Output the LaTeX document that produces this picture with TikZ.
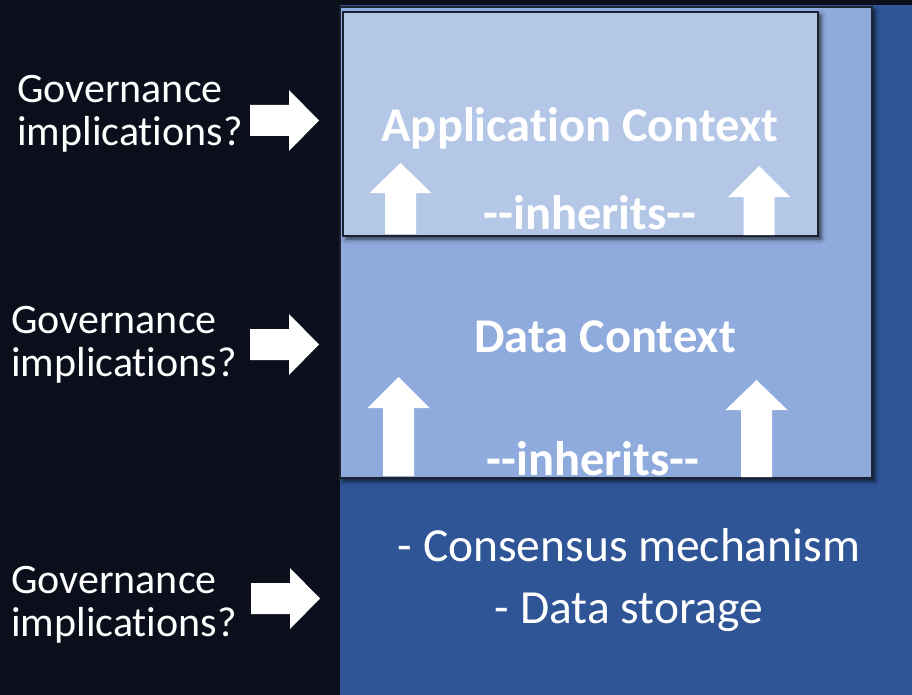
\documentclass[tikz,border=0pt]{standalone}
\usepackage{fontspec}
\setmainfont[Ligatures={NoCommon}, RawFeature={-liga;-clig}]{Carlito}
\usetikzlibrary{shadows.blur}
\definecolor{bgdark}{HTML}{0A0F1B}
\definecolor{layerdark}{HTML}{2F5597}
\definecolor{layermid}{HTML}{8FAADC}
\definecolor{layerlight}{HTML}{B4C7E7}
\definecolor{edgeline}{HTML}{1C2230}

% block arrow pointing right: tail x, centre y
\newcommand\rightblock[2]{%
  \fill[white] (#1,#2-15.5) -- ++(39,0) -- ++(0,-15) -- (#1+69,#2)
    -- (#1+39,#2+30.5) -- ++(0,-15) -- (#1,#2+15.5) -- cycle;}
% block arrow pointing up: centre x, tip y, head base y, tail y
\newcommand\upblock[4]{%
  \fill[white] (#1-15.5,#4) -- (#1-15.5,#3) -- (#1-31,#3) -- (#1,#2)
    -- (#1+31,#3) -- (#1+15.5,#3) -- (#1+15.5,#4) -- cycle;}

\begin{document}
\begin{tikzpicture}[x=1pt,y=-1pt,
  layer/.style={rectangle, anchor=north west, inner sep=0pt, outer sep=0pt},
  framed/.style={layer, draw=edgeline, line width=1.3pt,
    blur shadow={shadow xshift=3pt, shadow yshift=-3pt,
      shadow blur radius=4pt, shadow opacity=70}},
  title/.style={text=white, font=\bfseries\fontsize{48.5}{52}\selectfont, inner sep=0pt},
  body/.style={text=white, font=\fontsize{47.5}{62}\selectfont, align=center, inner sep=0pt},
  question/.style={text=white, font=\fontsize{42}{43}\selectfont, align=left, anchor=west, inner sep=0pt}]

\useasboundingbox (0,0) rectangle (912,695);
\fill[bgdark] (0,0) rectangle (912,695);

% stacked layers
\node[layer, fill=layerdark, minimum width=572pt, minimum height=690pt] (base) at (340,5) {};
\node[framed, fill=layermid, minimum width=532pt, minimum height=471pt] (data) at (340,7) {};
\node[framed, fill=layerlight, minimum width=475pt, minimum height=224pt] (app) at (343,12) {};

% inheritance arrows
\upblock{400.5}{163}{193}{234}
\upblock{759}{166}{197}{235}
\upblock{398.5}{377}{408}{476}
\upblock{756.5}{380}{410}{477}

% layer labels
\node[title] (apptitle) at (580,128) {Application Context};
\node[title, anchor=base] (inh1) at (590,229) {-{}-inherits-{}-};
\node[title] (datatitle) at (605,337) {Data Context};
\node[title, anchor=base] (inh2) at (593,475) {-{}-inherits-{}-};
\node[body] (basetext) at (629,580) {- Consensus mechanism\\- Data storage};

% governance questions
\node[question] (q1) at (17,113.5) {Governance\\implications?};
\node[question] (q2) at (11,344.5) {Governance\\implications?};
\node[question] (q3) at (11,604.5) {Governance\\implications?};
\rightblock{250}{120.5}
\rightblock{250}{344.5}
\rightblock{251}{598.5}
\end{tikzpicture}
\end{document}
